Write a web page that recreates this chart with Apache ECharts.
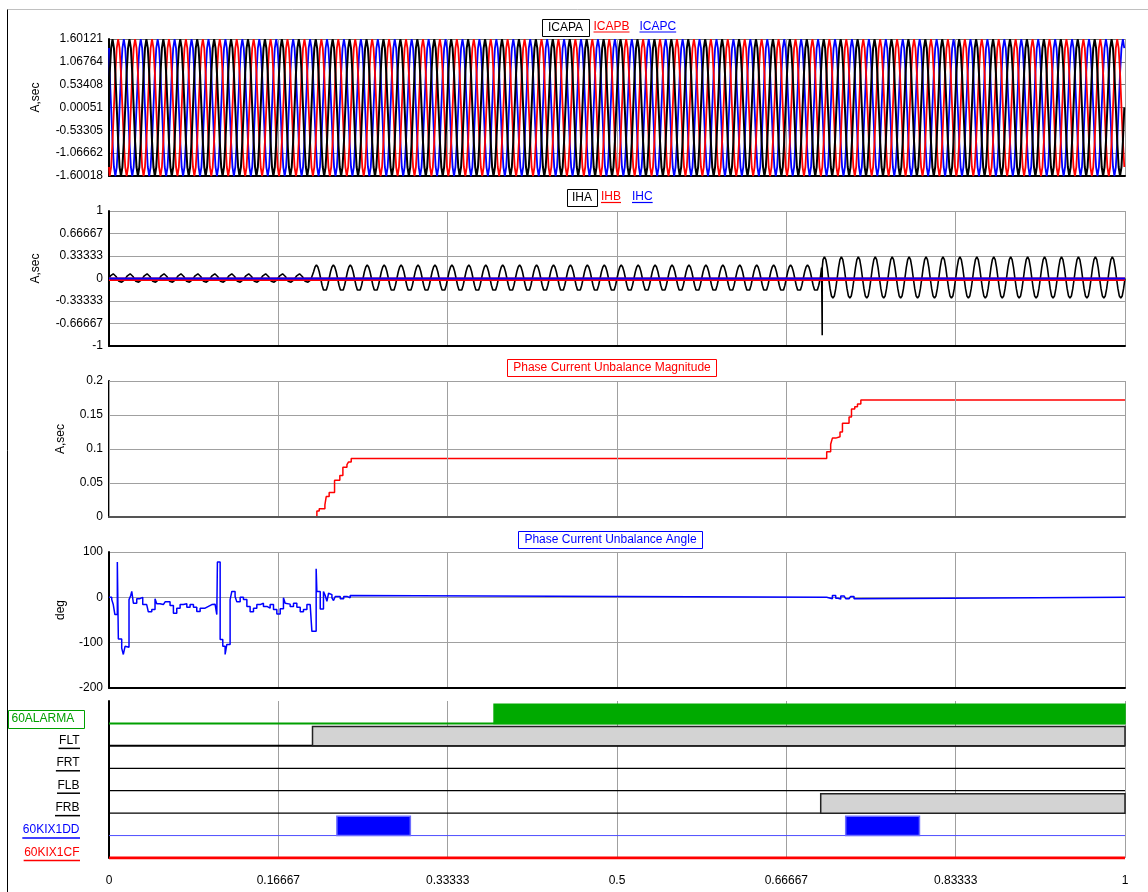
<!DOCTYPE html>
<html>
<head>
<meta charset="utf-8">
<script src="https://cdn.jsdelivr.net/npm/echarts@6/dist/echarts.min.js"></script>
<style>
  html, body { margin: 0; padding: 0; background: #fff; }
  #chart { width: 1148px; height: 892px; }
</style>
</head>
<body>
<div id="chart"></div>
<script>
// ---------------- time axis ----------------
const X_TICK_LABELS = ['0', '0.16667', '0.33333', '0.5', '0.66667', '0.83333', '1'];
const CYCLES_PER_SECOND = 60;
const SAMPLES_PER_CYCLE = 12;

// ---------------- capacitor currents (A, sec) ----------------
const ICAP_TICK_LABELS = ['-1.60018', '-1.06662', '-0.53305', '0.00051', '0.53408', '1.06764', '1.60121'];
const ICAP_MIN = -1.60018;
const ICAP_MAX = 1.60121;
const ICAPA_CYCLE = [0.00, 0.80, 1.39, 1.60, 1.39, 0.80, 0.00, -0.80, -1.39, -1.60, -1.39, -0.80];
const ICAPB_CYCLE = [-1.39, -1.60, -1.39, -0.80, 0.00, 0.80, 1.39, 1.60, 1.39, 0.80, 0.00, -0.80];
const ICAPC_CYCLE = [1.39, 0.80, 0.00, -0.80, -1.39, -1.60, -1.39, -0.80, 0.00, 0.80, 1.39, 1.60];
const ICAP_CYCLE_COUNT = 60;

// ---------------- harmonic / neutral currents (A, sec) ----------------
const IH_TICK_LABELS = ['-1', '-0.66667', '-0.33333', '0', '0.33333', '0.66667', '1'];
const IHA_CYCLE_PRE  = [0.00, 0.04, 0.065, 0.07, 0.06, 0.03, -0.01, -0.04, -0.055, -0.055, -0.045, -0.02];
const IHA_CYCLE_MID  = [0.00, 0.10, 0.17, 0.20, 0.17, 0.10, 0.00, -0.10, -0.17, -0.195, -0.17, -0.10];
const IHA_CYCLE_POST = [0.00, 0.16, 0.28, 0.32, 0.28, 0.16, 0.00, -0.15, -0.26, -0.29, -0.26, -0.15];
const IHA_CYCLE_COUNTS = [12, 30, 18];
const IHA_SPIKE = [0.702, -0.84];
const IHB_POINTS = [[0, -0.01], [1, -0.01]];
const IHC_POINTS = [[0, 0], [1, 0]];

// ---------------- unbalance magnitude (A, sec) ----------------
const UNB_MAG_TICK_LABELS = ['0', '0.05', '0.1', '0.15', '0.2'];
const UNB_MAG_TIME  = [0, 0.2046, 0.2069, 0.2125, 0.2138, 0.2167, 0.2220, 0.2272, 0.2302, 0.2342, 0.2358, 0.2384,
                       0.7064, 0.7103, 0.7120, 0.7153, 0.7195, 0.7219, 0.7284, 0.7308, 0.7340, 0.7367, 0.7400, 1];
const UNB_MAG_VALUE = [0, 0.009, 0.012, 0.018, 0.030, 0.036, 0.054, 0.061, 0.073, 0.077, 0.081, 0.086,
                       0.096, 0.107, 0.116, 0.118, 0.125, 0.138, 0.147, 0.159, 0.162, 0.166, 0.172, 0.172];

// ---------------- unbalance angle (deg) ----------------
const UNB_ANG_TICK_LABELS = ['-200', '-100', '0', '100'];
const UNB_ANG_TIME = [
  0, 0.0027, 0.0042, 0.0058, 0.0082, 0.0092, 0.0125, 0.0141, 0.0158, 0.0174, 0.0197, 0.0214, 0.0224, 0.0240,
  0.0273, 0.0305, 0.0332, 0.0371, 0.0387, 0.0421, 0.0453, 0.0470, 0.0502, 0.0535, 0.0552, 0.0601, 0.0634,
  0.0667, 0.0700, 0.0732, 0.0766, 0.0798, 0.0831, 0.0864, 0.0897, 0.0946, 0.0979, 0.1012, 0.1044, 0.1061,
  0.1067, 0.1094, 0.1120, 0.1143, 0.1160, 0.1192, 0.1209, 0.1241, 0.1258, 0.1291, 0.1323, 0.1357, 0.1389,
  0.1422, 0.1455, 0.1488, 0.1520, 0.1554, 0.1586, 0.1619, 0.1652, 0.1685, 0.1717, 0.1734, 0.1751, 0.1783,
  0.1816, 0.1849, 0.1882, 0.1914, 0.1948, 0.1980, 0.1997, 0.2039, 0.2046, 0.2079, 0.2111, 0.2128, 0.2145,
  0.2161, 0.2177, 0.2194, 0.2210, 0.2227, 0.2276, 0.2310, 0.2342, 0.2374, 0.2391,
  0.7064, 0.7120, 0.7153, 0.7176, 0.7202, 0.7235, 0.7251, 0.7284, 0.7300, 0.7333, 0.7360, 1
];
const UNB_ANG_VALUE = [
  0, -5, -16, -38, 78, -92, -112, -126, -108, -110, -5, 4, 13, -13,
  -3, 0, -16, -20, -32, -27, -3, -14, -16, -20, -10, -18, -35,
  -24, -16, -14, -22, -16, -22, -31, -24, -20, -16, -15, -14, -38,
  78, -93, -108, -126, -104, -5, 13, 2, -10, 0, -5, -20, -32,
  -24, -16, -13, -20, -24, -16, -27, -37, -25, -1, -13, -15, -20,
  -13, -22, -32, -27, -16, -15, -75, 63, 13, -26, 13, 4, -9,
  9, 6, -1, -7, 2, -3, 2, -1, 4, 0,
  -3, 4, -2, -4, 3, 0, -3, 0, 2, -3, 0, 0
];

// ---------------- digital elements (on intervals, seconds) ----------------
const DIGITAL_NAMES = ['60ALARMA', 'FLT', 'FRT', 'FLB', 'FRB', '60KIX1DD', '60KIX1CF'];
const ALARMA_ON = [[0.379, 1]];
const FLT_ON = [[0.2003, 1]];
const FRT_ON = [];
const FLB_ON = [];
const FRB_ON = [[0.7005, 1]];
const KIX1DD_ON = [[0.2243, 0.2966], [0.7251, 0.7977]];
const KIX1CF_ON = [];

// ---------------- helpers ----------------
const SAMPLE_RATE = CYCLES_PER_SECOND * SAMPLES_PER_CYCLE;

// Lay recorded cycles end to end on the sample time base.
function sampled(segments) {
  const pts = [];
  let n = 0;
  let last = null;
  segments.forEach(([cycle, count]) => {
    for (let c = 0; c < count; c++) {
      cycle.forEach(v => { pts.push([n / SAMPLE_RATE, v]); n++; });
    }
    last = cycle;
  });
  pts.push([n / SAMPLE_RATE, last[0]]);
  return pts;
}
function withEvent(pts, ev) {
  const i = pts.findIndex(p => p[0] > ev[0]);
  const prev = pts[i - 1][1];
  pts.splice(i, 0, [ev[0], prev], [ev[0], ev[1]], [ev[0], prev]);
  return pts;
}
const zip = (t, v) => t.map((x, i) => [x, v[i]]);

const icapA = sampled([[ICAPA_CYCLE, ICAP_CYCLE_COUNT]]);
const icapB = sampled([[ICAPB_CYCLE, ICAP_CYCLE_COUNT]]);
const icapC = sampled([[ICAPC_CYCLE, ICAP_CYCLE_COUNT]]);
const ihA = withEvent(sampled([
  [IHA_CYCLE_PRE, IHA_CYCLE_COUNTS[0]],
  [IHA_CYCLE_MID, IHA_CYCLE_COUNTS[1]],
  [IHA_CYCLE_POST, IHA_CYCLE_COUNTS[2]]
]), IHA_SPIKE);

const digitalOn = [ALARMA_ON, FLT_ON, FRT_ON, FLB_ON, FRB_ON, KIX1DD_ON, KIX1CF_ON];

// ---------------- styling ----------------
const FONT = '"Liberation Sans", Arial, sans-serif';
const GRID_COLOR = '#a0a0a0';
const GRIDS = [
  { left: 109, right: 23, top: 39, height: 137 },
  { left: 109, right: 23, top: 211, height: 135 },
  { left: 109, right: 23, top: 381, height: 136 },
  { left: 109, right: 23, top: 552, height: 136 },
  { left: 109, right: 23, top: 701, height: 157 }
];
const DIGITAL_STYLE = [
  { text: '#00a000', base: '#00a000', baseWidth: 2, fill: '#00aa00', stroke: '#00aa00', boxed: true },
  { text: '#000', base: '#000', baseWidth: 2, fill: '#d3d3d3', stroke: '#222' },
  { text: '#000', base: '#000', baseWidth: 1.2, fill: '#d3d3d3', stroke: '#222' },
  { text: '#000', base: '#000', baseWidth: 1.2, fill: '#d3d3d3', stroke: '#222' },
  { text: '#000', base: '#000', baseWidth: 1.2, fill: '#d3d3d3', stroke: '#222' },
  { text: '#0000ff', base: '#4d4dff', baseWidth: 1, fill: '#0000ff', stroke: '#6d6dff' },
  { text: '#ff0000', base: '#ff0000', baseWidth: 3, fill: '#ff0000', stroke: '#ff0000' }
];
const BAR_RATIO = 0.86;

function xAxis(gridIndex, labels, z) {
  return {
    type: 'value', gridIndex, min: 0, max: 1, interval: 1 / 6, z: z || 0,
    axisLine: { show: gridIndex !== 4, onZero: false, lineStyle: { color: gridIndex === 2 ? '#555' : '#000', width: 2 } },
    axisTick: { show: false },
    axisLabel: {
      show: labels, margin: 17, color: '#000', fontSize: 12, fontFamily: FONT,
      formatter: v => X_TICK_LABELS[Math.round(v * 6)] ?? ''
    },
    splitLine: { show: true, lineStyle: { color: GRID_COLOR, width: 1 } }
  };
}
function yAxis(gridIndex, min, max, interval, tickLabels, name, nameGap, splitColor) {
  return {
    type: 'value', gridIndex, min, max, interval,
    name, nameLocation: 'middle', nameGap,
    nameTextStyle: { color: '#000', fontSize: 12, fontFamily: FONT, padding: [0, 0, 0, 20] },
    axisLine: { show: true, onZero: false, lineStyle: { color: '#000', width: 2 } },
    axisTick: { show: false },
    axisLabel: {
      margin: 6, color: '#000', fontSize: 12, fontFamily: FONT,
      formatter: v => tickLabels[Math.round((v - min) / interval)] ?? ''
    },
    splitLine: { show: true, lineStyle: { color: splitColor || GRID_COLOR, width: 1 } }
  };
}

const lineSeries = (name, axis, data, color, width, extra) => Object.assign({
  name, type: 'line', xAxisIndex: axis, yAxisIndex: axis, data,
  symbol: 'none', silent: true, animation: false,
  lineStyle: { color, width }, z: 2
}, extra || {});

const series = [
  lineSeries('ICAPC', 0, icapC, '#0000ff', 1.8, { step: 'middle' }),
  lineSeries('ICAPB', 0, icapB, '#ff0000', 1.8, { step: 'middle' }),
  lineSeries('ICAPA', 0, icapA, '#000000', 2, { step: 'middle' }),
  lineSeries('IHA', 1, ihA, '#000000', 1.6),
  lineSeries('IHB', 1, IHB_POINTS, '#ff0000', 3.5),
  lineSeries('IHC', 1, IHC_POINTS, '#0000ff', 2),
  lineSeries('Phase Current Unbalance Magnitude', 2, zip(UNB_MAG_TIME, UNB_MAG_VALUE), '#ff0000', 1.5, { step: 'end' }),
  lineSeries('Phase Current Unbalance Angle', 3, zip(UNB_ANG_TIME, UNB_ANG_VALUE), '#0000ff', 1.5, { step: 'end' })
];

// digital baselines, then the "on" intervals as blocks above them
DIGITAL_NAMES.forEach((name, row) => {
  const st = DIGITAL_STYLE[row];
  series.push(lineSeries(name + ' base', 4, [[0, row + 1], [1, row + 1]], st.base, st.baseWidth, { z: 3 }));
});
DIGITAL_NAMES.forEach((name, row) => {
  const st = DIGITAL_STYLE[row];
  series.push({
    name, type: 'custom', xAxisIndex: 4, yAxisIndex: 4, silent: true, animation: false, z: 4,
    data: digitalOn[row].map(([s, e]) => [s, e, row]),
    encode: { x: [0, 1], y: 2 },
    renderItem: (params, api) => {
      const r = api.value(2);
      const p0 = api.coord([api.value(0), r + 1]);
      const p1 = api.coord([api.value(1), r + 1 - BAR_RATIO]);
      return {
        type: 'rect',
        shape: { x: p0[0], y: p1[1], width: p1[0] - p0[0], height: p0[1] - p1[1] },
        style: { fill: st.fill, stroke: st.stroke, lineWidth: 1.5 }
      };
    }
  });
});

const chart = echarts.init(document.getElementById('chart'), null, { renderer: 'canvas' });
chart.setOption({
  animation: false,
  backgroundColor: '#fff',
  textStyle: { fontFamily: FONT, fontSize: 12, color: '#000' },
  grid: GRIDS,
  xAxis: [xAxis(0, false), xAxis(1, false), xAxis(2, false, 3), xAxis(3, false), xAxis(4, true)],
  yAxis: [
    yAxis(0, ICAP_MIN, ICAP_MAX, (ICAP_MAX - ICAP_MIN) / 6, ICAP_TICK_LABELS, 'A,sec', 67, '#777'),
    yAxis(1, -1, 1, 1 / 3, IH_TICK_LABELS, 'A,sec', 67),
    yAxis(2, 0, 0.2, 0.05, UNB_MAG_TICK_LABELS, 'A,sec', 42),
    yAxis(3, -200, 100, 100, UNB_ANG_TICK_LABELS, 'deg', 42),
    {
      type: 'value', gridIndex: 4, min: 0, max: DIGITAL_NAMES.length, inverse: true,
      axisLine: { show: true, onZero: false, lineStyle: { color: '#000', width: 2 } },
      axisTick: { show: false }, axisLabel: { show: false }, splitLine: { show: false }
    }
  ],
  series
});

// ---------------- legends, titles and channel labels ----------------
const ctx = document.createElement('canvas').getContext('2d');
ctx.font = '12px ' + FONT;
const tw = s => ctx.measureText(s).width;
const font12 = '12px ' + FONT;

const graphic = [];
// page frame
graphic.push({ type: 'line', shape: { x1: 7.5, y1: 9.5, x2: 1148, y2: 9.5 }, style: { stroke: '#c0c0c0', lineWidth: 1 }, silent: true });
graphic.push({ type: 'line', shape: { x1: 7.5, y1: 9.5, x2: 7.5, y2: 892 }, style: { stroke: '#000', lineWidth: 1 }, silent: true });

function boxedText(text, cx, cy, color, padX) {
  const w = tw(text) + padX * 2;
  graphic.push({ type: 'rect', shape: { x: Math.round(cx - w / 2) + 0.5, y: Math.round(cy - 8.5) + 0.5, width: Math.round(w), height: 17 },
    style: { fill: '#fff', stroke: color, lineWidth: 1 }, silent: true, z: 10 });
  graphic.push({ type: 'text', x: cx, y: cy, style: { text, fill: color, font: font12, align: 'center', verticalAlign: 'middle' }, silent: true, z: 11 });
}
function underlinedText(text, left, cy, color, underlineY) {
  const w = tw(text);
  graphic.push({ type: 'text', x: left, y: cy, style: { text, fill: color, font: font12, align: 'left', verticalAlign: 'middle' }, silent: true, z: 11 });
  graphic.push({ type: 'line', shape: { x1: left, y1: underlineY, x2: left + w, y2: underlineY }, style: { stroke: color, lineWidth: 1.2 }, silent: true, z: 11 });
}

// panel 1 legend
boxedText('ICAPA', 565.5, 27.5, '#000', 6);
underlinedText('ICAPB', 593.5, 26.5, '#ff0000', 32);
underlinedText('ICAPC', 639.5, 26.5, '#0000ff', 32);
// panel 2 legend
boxedText('IHA', 582, 197.5, '#000', 5);
underlinedText('IHB', 601, 196.5, '#ff0000', 202.5);
underlinedText('IHC', 632, 196.5, '#0000ff', 202.5);
// panel 3 / 4 titles
boxedText('Phase Current Unbalance Magnitude', 612, 367.5, '#ff0000', 6);
boxedText('Phase Current Unbalance Angle', 610.5, 539.5, '#0000ff', 6);

// digital channel labels, placed from the digital axis
DIGITAL_NAMES.forEach((name, row) => {
  const st = DIGITAL_STYLE[row];
  const base = chart.convertToPixel({ xAxisIndex: 4, yAxisIndex: 4 }, [0, row + 1])[1];
  if (st.boxed) {
    graphic.push({ type: 'rect', shape: { x: 8.5, y: Math.round(base - 13.5) + 0.5, width: 76, height: 18 },
      style: { fill: '#fff', stroke: st.text, lineWidth: 1 }, silent: true, z: 10 });
    graphic.push({ type: 'text', x: 11.5, y: base - 4.5, style: { text: name, fill: st.text, font: font12, align: 'left', verticalAlign: 'middle' }, silent: true, z: 11 });
  } else {
    const w = tw(name);
    const right = 79.5;
    graphic.push({ type: 'text', x: right, y: base - 5.5, style: { text: name, fill: st.text, font: font12, align: 'right', verticalAlign: 'middle' }, silent: true, z: 11 });
    graphic.push({ type: 'line', shape: { x1: right - w - 0.5, y1: base + 2.5, x2: right + 0.5, y2: base + 2.5 },
      style: { stroke: st.text, lineWidth: 1.5 }, silent: true, z: 11 });
  }
});

chart.setOption({ graphic });
</script>
</body>
</html>
